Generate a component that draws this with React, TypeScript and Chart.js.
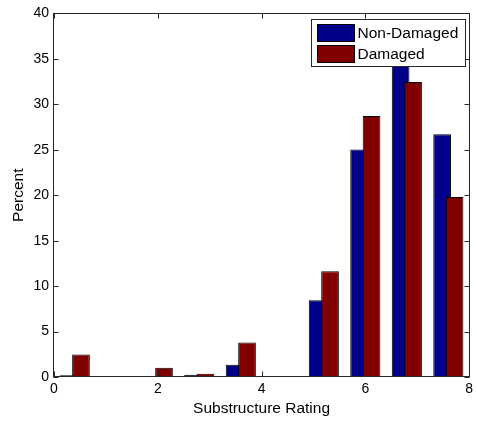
import React, { useEffect, useRef } from 'react';
import { Chart, registerables } from 'chart.js';

Chart.register(...registerables);

// Histogram bin centres (10 bins over 0..8)
const binCenters = [0.4, 1.2, 2.0, 2.8, 3.6, 4.4, 5.2, 6.0, 6.8, 7.6];
const nonDamaged = [0.2, 0, 0.1, 0.26, 1.36, 0, 8.44, 25.03, 37.9, 26.7];
const damaged = [2.47, 0, 1.03, 0.37, 3.79, 0, 11.63, 28.7, 32.44, 19.81];
const seriesLabels = ['Non-Damaged', 'Damaged'];
const seriesColors = ['#00008a', '#800000'];
const xTitle = 'Substructure Rating';
const yTitle = 'Percent';

const FONT = "'Liberation Sans', Arial, Helvetica, sans-serif";
const AXIS_COLOR = '#262626';

const matlabPlugin = {
  id: 'matlabStyle',
  beforeDatasetsDraw(chart: any) {
    const { ctx, chartArea: a } = chart;
    ctx.save();
    ctx.beginPath();
    ctx.rect(a.left, a.top, a.right - a.left, a.bottom - a.top);
    ctx.clip();
    // draw in dataset order so later series sit on top
    chart.getSortedVisibleDatasetMetas().forEach((m: any) => m.controller.draw());
    ctx.restore();
    return false;
  },
  afterDraw(chart: any) {
    const { ctx, chartArea: a, scales } = chart;
    const L = Math.floor(a.left) - 0.5;
    const R = Math.round(a.right) + 0.5;
    const T = Math.round(a.top) + 0.5;
    const B = Math.round(a.bottom) - 0.5;
    ctx.save();
    ctx.strokeStyle = AXIS_COLOR;
    ctx.lineWidth = 1;
    ctx.strokeRect(L, T, R - L, B - T);
    const tl = 5;
    ctx.beginPath();
    scales.x.ticks.forEach((t: any) => {
      const px = Math.round(scales.x.getPixelForValue(t.value)) + 0.5;
      ctx.moveTo(px, B);
      ctx.lineTo(px, B - tl);
      ctx.moveTo(px, T);
      ctx.lineTo(px, T + tl);
    });
    scales.y.ticks.forEach((t: any) => {
      const py = Math.round(scales.y.getPixelForValue(t.value)) + 0.5;
      ctx.moveTo(L, py);
      ctx.lineTo(L + tl, py);
      ctx.moveTo(R, py);
      ctx.lineTo(R - tl, py);
    });
    ctx.stroke();

    // legend box inside the axes, top right
    const ds = chart.data.datasets;
    ctx.font = `15.5px ${FONT}`;
    let maxW = 0;
    ds.forEach((d: any) => {
      maxW = Math.max(maxW, ctx.measureText(d.label).width);
    });
    const swW = 37;
    const swH = 17;
    const pad = 6;
    const rowH = 21;
    const boxW = pad + swW + 3 + maxW + 8;
    const boxH = 47;
    const boxRight = Math.round(a.right) - 3.5;
    const boxTop = Math.round(a.top) + 6.5;
    const boxLeft = Math.round(boxRight - boxW) + 0.5;
    ctx.fillStyle = '#ffffff';
    ctx.fillRect(boxLeft, boxTop, boxRight - boxLeft, boxH);
    ctx.strokeStyle = AXIS_COLOR;
    ctx.strokeRect(boxLeft, boxTop, boxRight - boxLeft, boxH);
    ds.forEach((d: any, i: number) => {
      const cy = boxTop + 13 + i * rowH;
      const sx = boxLeft + pad;
      const sy = Math.round(cy - swH / 2) + 0.5;
      ctx.fillStyle = d.backgroundColor;
      ctx.fillRect(sx, sy, swW, swH);
      ctx.strokeStyle = '#000';
      ctx.strokeRect(sx, sy, swW, swH);
      ctx.fillStyle = '#000';
      ctx.textAlign = 'left';
      ctx.textBaseline = 'middle';
      ctx.fillText(d.label, sx + swW + 3, cy + 1);
    });
    ctx.restore();
  },
};

export default function App() {
  const ref = useRef<HTMLCanvasElement | null>(null);
  useEffect(() => {
    if (!ref.current) return;
    const chart = new Chart(ref.current, {
      type: 'bar',
      data: {
        datasets: [
          {
            label: seriesLabels[0],
            data: binCenters.map((c, i) => ({ x: c, y: nonDamaged[i] })),
            backgroundColor: seriesColors[0],
            borderColor: '#000',
            borderWidth: 1,
            borderSkipped: false,
          },
          {
            label: seriesLabels[1],
            data: binCenters.map((c, i) => ({ x: c, y: damaged[i] })),
            backgroundColor: seriesColors[1],
            borderColor: '#000',
            borderWidth: 1,
            borderSkipped: false,
          },
        ],
      },
      options: {
        responsive: false,
        animation: false,
        devicePixelRatio: 1,
        categoryPercentage: 0.6,
        barPercentage: 1.42,
        layout: { padding: { left: 0, right: 6, top: 13, bottom: 0 } },
        plugins: {
          legend: { display: false },
          tooltip: { enabled: false },
        },
        scales: {
          x: {
            type: 'linear',
            min: 0,
            max: 8,
            offset: false,
            grid: { display: false, drawTicks: false, offset: false },
            border: { display: false },
            ticks: {
              stepSize: 2,
              padding: 4,
              color: '#000',
              maxRotation: 0,
              font: { family: FONT, size: 14 },
            },
            title: {
              display: true,
              text: xTitle,
              color: '#000',
              font: { family: FONT, size: 15.5 },
              padding: { top: 0, bottom: 2.5 },
            },
            afterFit: (s: any) => {
              s.height = 44;
            },
          },
          y: {
            min: 0,
            max: 40,
            grid: { display: false, drawTicks: false },
            border: { display: false },
            ticks: {
              stepSize: 5,
              padding: 5,
              color: '#000',
              font: { family: FONT, size: 14 },
            },
            title: {
              display: true,
              text: yTitle,
              color: '#000',
              font: { family: FONT, size: 15.5 },
              padding: { top: 9, bottom: 0 },
            },
            afterFit: (s: any) => {
              s.width = 54;
            },
          },
        },
      },
      plugins: [matlabPlugin],
    } as any);
    return () => chart.destroy();
  }, []);
  return (
    <canvas
      ref={ref}
      width={477}
      height={421}
      style={{ position: 'fixed', left: 0, top: 0, display: 'block', background: '#fff' }}
    />
  );
}
